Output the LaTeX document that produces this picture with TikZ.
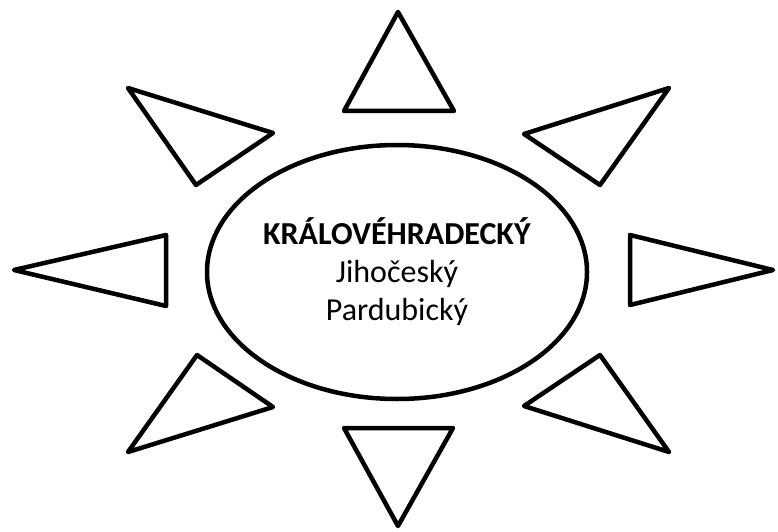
\documentclass[tikz,border=0pt]{standalone}
\usepackage{fontspec}
\setmainfont{Carlito}
\usetikzlibrary{shapes.geometric}

\begin{document}
\begin{tikzpicture}[
    x=1pt, y=-1pt,
    ray/.style={draw, line width=4.5pt, line join=round},
    core/.style={ellipse, draw, line width=4.5pt, minimum width=380pt, minimum height=254pt, inner sep=0pt, align=center, font=\fontsize{32}{38}\selectfont}
]
\useasboundingbox (0,0) rectangle (778,532);
\node[core] (kraj) at (397,272) {\textbf{KRÁLOVÉHRADECKÝ}\\Jihočeský\\Pardubický};
\draw[ray] (398,12)  -- (454,111) -- (344,111) -- cycle;
\draw[ray] (128,88)  -- (273,133) -- (196,185) -- cycle;
\draw[ray] (669,88)  -- (524,134) -- (600,185) -- cycle;
\draw[ray] (14,270)  -- (166,235) -- (166,306) -- cycle;
\draw[ray] (773,270) -- (630,235) -- (630,305) -- cycle;
\draw[ray] (128,452) -- (197,355) -- (273,407) -- cycle;
\draw[ray] (669,452) -- (600,355) -- (524,406) -- cycle;
\draw[ray] (398,526) -- (344,428) -- (453,428) -- cycle;
\end{tikzpicture}
\end{document}
